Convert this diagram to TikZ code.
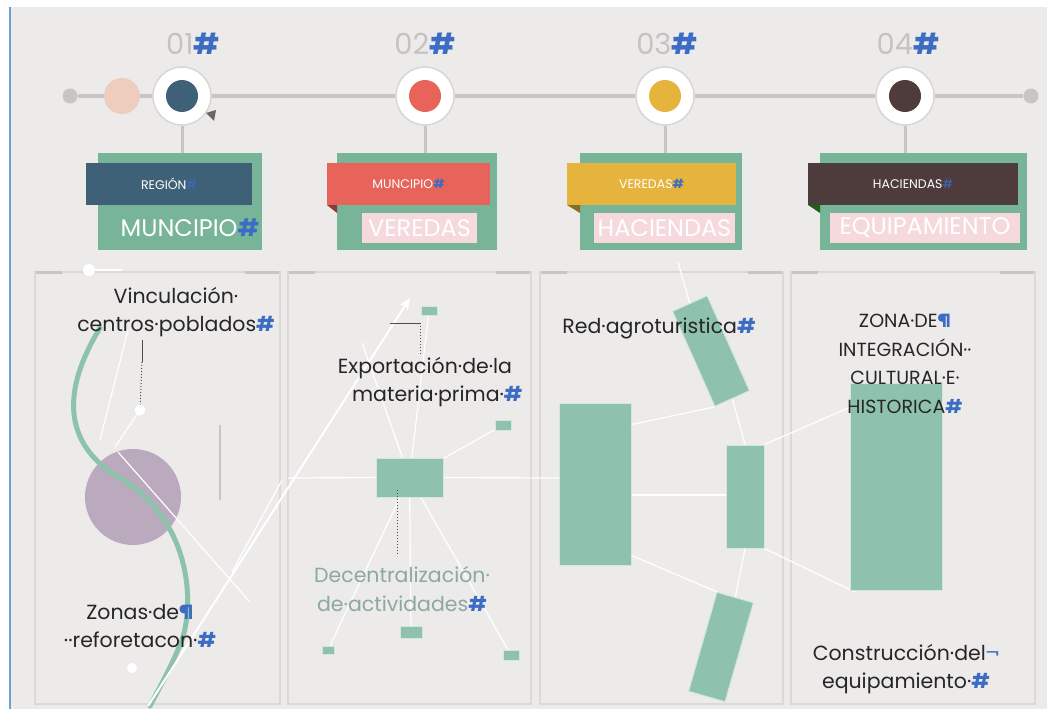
\documentclass[tikz,border=0pt]{standalone}
\usepackage{fontspec}
\setmainfont{Poppins}
\usetikzlibrary{arrows.meta}
\definecolor{bgc}{HTML}{EDEAEA}
\definecolor{tlc}{HTML}{C9C5C5}
\definecolor{markblue}{HTML}{3D6CC4}
\definecolor{boxg}{HTML}{78B598}
\definecolor{recg}{HTML}{8FC2AC}
\definecolor{cA}{HTML}{3F6177}
\definecolor{cB}{HTML}{E8645A}
\definecolor{cC}{HTML}{E6B43C}
\definecolor{cD}{HTML}{4E3B3B}
\definecolor{peach}{HTML}{EFCDBE}
\definecolor{hlpink}{HTML}{F6D9DD}
\definecolor{purp}{HTML}{BBA9BE}
\definecolor{curveg}{HTML}{8CC3AA}
\definecolor{numg}{HTML}{C6C2C2}
\definecolor{panelc}{HTML}{DCD8D8}
\definecolor{tealtext}{HTML}{8BA9A2}
\definecolor{leftblue}{HTML}{6AA2D6}
\newcommand{\bh}{\textcolor{markblue}{\textbf{\#}}}
\newcommand{\bp}{\textcolor{markblue}{\textbf{¶}}}
\tikzset{
  tl/.style={draw=tlc, line width=4pt},
  bigc/.style={circle, fill=white, draw=tlc!70, line width=1.5pt, minimum size=58pt, inner sep=0pt},
  endc/.style={circle, fill=tlc, minimum size=15pt, inner sep=0pt},
  greenbox/.style={fill=boxg, inner sep=0pt},
  banner/.style={inner sep=0pt, text=white, font=\fontsize{12.5}{13}\selectfont},
  bigtxt/.style={inner sep=1pt, text=white, font=\fontsize{24}{25}\selectfont},
  numtxt/.style={text=numg, font=\fontsize{29}{30}\selectfont, inner sep=0pt},
  prect/.style={fill=recg, draw=white!60!recg, line width=1pt, inner sep=0pt},
  wline/.style={draw=white, line width=1.2pt},
  lab/.style={text=black!85, font=\fontsize{20.5}{28.5}\selectfont, align=center, inner sep=0pt},
  panel/.style={draw=panelc, line width=1.5pt},
  tick/.style={draw=tlc, line width=3pt},
  dotl/.style={draw=black!70, line width=1pt, dotted},
}
\begin{document}
\begin{tikzpicture}[x=1pt,y=-1pt]
\useasboundingbox (0,0) rectangle (1047,709);
\fill[white] (0,0) rectangle (1047,709);
\fill[bgc] (11,7) rectangle (1047,709);
\draw[leftblue, line width=2pt] (10,7) -- (10,709);

% ---------- timeline ----------
\node[endc] (e0) at (70,96) {};
\node[endc] (e5) at (1031,96) {};
\node[circle, fill=peach, minimum size=36pt, inner sep=0pt] (pc) at (122,96) {};
\node[bigc] (c1) at (182,96) {};
\node[bigc] (c2) at (425,96) {};
\node[bigc] (c3) at (665,96) {};
\node[bigc] (c4) at (905,96) {};
\draw[tl] (e0) -- (pc);
\draw[tl] (pc) -- (c1);
\draw[tl] (c1) -- (c2);
\draw[tl] (c2) -- (c3);
\draw[tl] (c3) -- (c4);
\draw[tl] (c4) -- (e5);
\fill[cA] (c1) circle (16);
\fill[cB] (c2) circle (16);
\fill[cC] (c3) circle (16);
\fill[cD] (c4) circle (16);
\fill[black!60] (206,113) -- (216,110) -- (214,121) -- cycle;

\node[numtxt, anchor=base] (n1) at (193,55) {01\bh};
\node[numtxt, anchor=base] (n2) at (425,55) {02\bh};
\node[numtxt, anchor=base] (n3) at (667,55) {03\bh};
\node[numtxt, anchor=base] (n4) at (908,55) {04\bh};

% ---------- header boxes ----------
\node[greenbox, minimum width=164pt, minimum height=97pt] (b1) at (180,201.5) {};
\node[greenbox, minimum width=160pt, minimum height=97pt] (b2) at (417,201.5) {};
\node[greenbox, minimum width=162pt, minimum height=97pt] (b3) at (661,201.5) {};
\node[greenbox, minimum width=207pt, minimum height=97pt] (b4) at (923.5,201.5) {};
\draw[tlc, line width=3pt] (c1.south) -- (c1.south |- b1.north);
\draw[tlc, line width=3pt] (c2.south) -- (c2.south |- b2.north);
\draw[tlc, line width=3pt] (c3.south) -- (c3.south |- b3.north);
\draw[tlc, line width=3pt] (c4.south) -- (c4.south |- b4.north);

% folded corners
\fill[cB!60!black] (327,205) -- (337,205) -- (337,213) -- cycle;
\fill[cC!60!black] (567,205) -- (580,205) -- (580,213) -- cycle;
\fill[cD!50!black!70!green] (808,205) -- (820,205) -- (820,213) -- cycle;

\node[banner, fill=cA, minimum width=166pt, minimum height=42pt] (r1) at (169,184) {REGIÓN\textcolor{markblue}{\#}};
\node[banner, fill=cB, minimum width=163pt, minimum height=42pt] (r2) at (408.5,184) {MUNCIPIO\bh};
\node[banner, fill=cC, minimum width=169pt, minimum height=42pt] (r3) at (651.5,184) {VEREDAS\bh};
\node[banner, fill=cD, minimum width=210pt, minimum height=42pt] (r4) at (913,184) {HACIENDAS\textcolor{markblue}{\#}};

\node[bigtxt] (m1) at (190,228) {MUNCIPIO\bh};
\node[bigtxt, fill=hlpink, minimum width=115pt, minimum height=30pt] (m2) at (419.5,228) {VEREDAS};
\node[bigtxt, fill=hlpink, minimum width=141pt, minimum height=30pt] (m3) at (664.5,228) {HACIENDAS};
\node[bigtxt, fill=hlpink, minimum width=190pt, minimum height=30pt] (m4) at (925,228) {EQUIPAMIENTO};

% ---------- panels ----------
\draw[panel] (35,272) rectangle (280,704);
\draw[panel] (288,272) rectangle (531,704);
\draw[panel] (540,272) rectangle (783,704);
\draw[panel] (791,272) rectangle (1035,704);
\foreach \a/\b in {35/280,288/531,540/783,791/1035}{
  \draw[tick] (\a+1,272) -- (\a+27,272);
  \draw[tick] (\b-35,272) -- (\b-1,272);
}

% ---------- panel 1 ----------
\node[circle, fill=white, minimum size=12pt, inner sep=0pt] (p1d) at (89,270) {};
\coordinate (p1e) at (122,270);
\draw[white, line width=2pt] (p1d) -- (p1e);

\coordinate (a0) at (148,706);
\coordinate (a1) at (410,298);
\coordinate (w1) at (100,440);
\coordinate (w2) at (128,330);
\coordinate (w3) at (118,452);
\coordinate (w4) at (250,602);
\coordinate (w5) at (232,572);
\coordinate (w6) at (282,480);
\node[circle, fill=purp, minimum size=96pt, inner sep=0pt] (pu) at (133,497) {};
\draw[wline] (w2) -- (w1);
\draw[wline] (w3) -- (w4);
\draw[wline] (w5) -- (w6);
\draw[curveg, line width=5pt, line cap=round] (100,328) .. controls (68,380) and (55,440) .. (120,478) .. controls (190,520) and (195,600) .. (182,640) .. controls (170,670) and (158,690) .. (150,706);
\draw[white, line width=2pt, -{Stealth[length=12pt,width=10pt]}] (a0) -- (a1);
\draw[tlc, line width=1.2pt] (220,425) -- (220,500);

\node[lab] (t1) at (176,312) {Vinculación·\\centros·poblados\bh};
\node[circle, fill=white, minimum size=11pt, inner sep=0pt] (d1) at (140,410) {};
\coordinate (d1t) at (142,340);
\draw[black!70, line width=1pt] (d1t) -- (142,362);
\draw[dotl] (142,362) -- (d1);
\draw[wline] (d1) -- (115,447);

\node[lab] (t2) at (140,626) {Zonas·de\bp\\··reforetacon·\bh};
\node[circle, fill=white, minimum size=10pt, inner sep=0pt] (d2) at (132,668) {};

% ---------- panel 2 ----------
\node[prect, minimum width=67pt, minimum height=39pt] (g0) at (409.5,477.5) {};
\node[prect, minimum width=16pt, minimum height=9pt] (g1) at (429,311) {};
\node[prect, minimum width=16pt, minimum height=10pt] (g2) at (503,425) {};
\node[prect, minimum width=22pt, minimum height=12pt] (g3) at (411,632) {};
\node[prect, minimum width=12pt, minimum height=8pt] (g4) at (328,650) {};
\node[prect, minimum width=16pt, minimum height=10pt] (g5) at (511,655) {};
\coordinate (g6) at (362,343);
\coordinate (g7) at (288,478);
\coordinate (g8) at (559,478);
\draw[wline] (g0) -- (g1);
\draw[wline] (g0) -- (g2);
\draw[wline] (g0) -- (g3);
\draw[wline] (g0) -- (g4);
\draw[wline] (g0) -- (g5);
\draw[wline] (g0) -- (g6);
\draw[wline] (g7) -- (g0.west);
\draw[wline] (g0.east) -- (g8);
\node[prect, minimum width=67pt, minimum height=39pt] at (g0) {};

\node[lab] (t3) at (425,382) {Exportación·de·la\\\hspace*{1.2em}materia·prima·\bh};
\coordinate (e3a) at (390,323);
\coordinate (e3b) at (420,323);
\draw[black!70, line width=1pt] (e3a) -- (e3b);
\draw[dotl] (e3b) -- (420,355);
\coordinate (e3c) at (397,490);
\draw[dotl] (e3c) -- (397,556);
\node[lab, text=tealtext] (t4) at (402,589) {Decentralización·\\de·actividades\bh};

% ---------- panel 3 ----------
\node[prect, minimum width=72pt, minimum height=162pt] (h0) at (595,484) {};
\node[prect, minimum width=38pt, minimum height=104pt, rotate=24] (h1) at (711,351) {};
\node[prect, minimum width=38pt, minimum height=103pt] (h2) at (745,496.5) {};
\node[prect, minimum width=38pt, minimum height=103pt, rotate=-16] (h3) at (721,647) {};
\coordinate (h4) at (855,405);
\coordinate (h5) at (855,592);
\coordinate (h6) at (678,262);
\draw[wline] (h0.north east) ++(0,22) -- (h1.south west);
\draw[wline] (h1.south) -- (h2.north);
\draw[wline] (h0.east) ++(0,11) -- (h2.west |- 0,495);
\draw[wline] (h0.south east) ++(0,-10) -- (h3.north west);
\draw[wline] (h2.south) -- (h3.north);
\draw[wline] (h2.north east) -- (h4);
\draw[wline] (h2.south east) -- (h5);
\draw[wline] (h1.north) -- (h6);
\node[lab] (t5) at (659,328) {Red·agroturistica\bh};

% ---------- panel 4 ----------
\node[prect, minimum width=92pt, minimum height=207pt] (k0) at (896,486.5) {};
\node[lab, font=\fontsize{19}{28.5}\selectfont] (t6) at (905,364) {ZONA·DE\bp\\INTEGRACIÓN··\\CULTURAL·E·\\HISTORICA\bh};
\node[lab] (t7) at (906,669) {Construcción·del\textcolor{markblue}{¬}\\equipamiento·\bh};
\end{tikzpicture}
\end{document}
